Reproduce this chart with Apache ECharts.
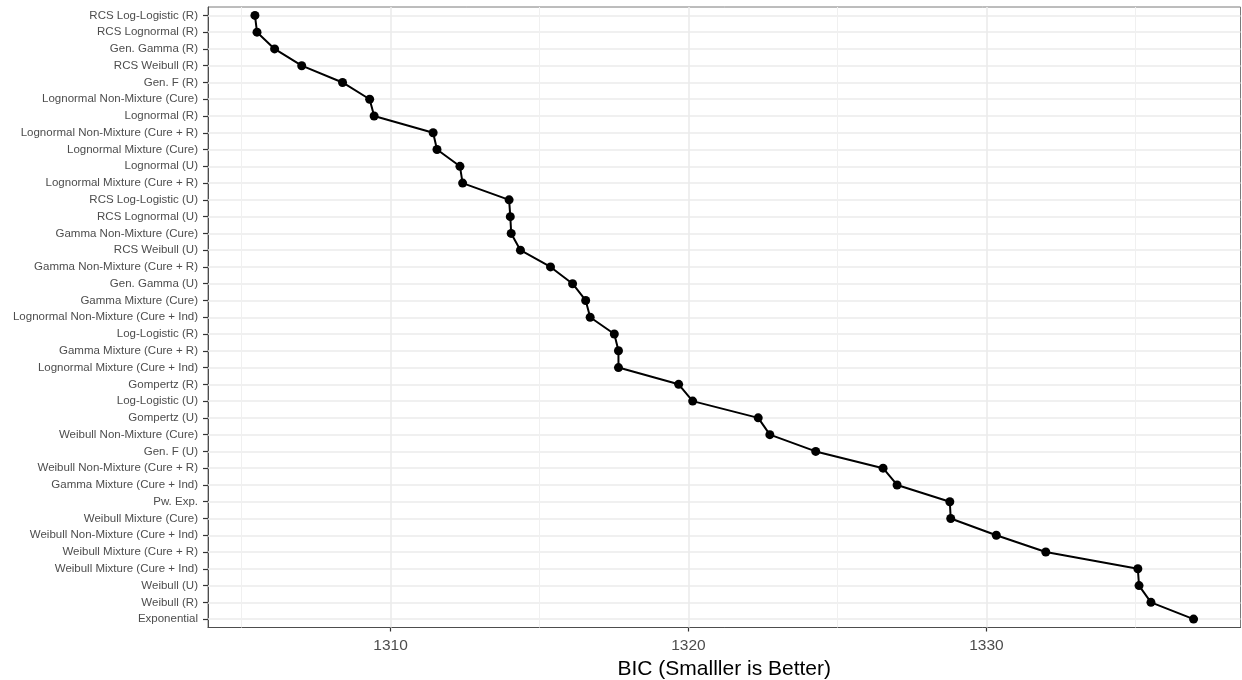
<!DOCTYPE html>
<html>
<head>
<meta charset="utf-8">
<script src="https://cdn.jsdelivr.net/npm/echarts@6/dist/echarts.min.js"></script>
<style>
html,body{margin:0;padding:0;background:#fff;}
#chart{width:1242px;height:680px;}
</style>
</head>
<body>
<div id="chart"></div>
<script>
const categories = [
  "RCS Log-Logistic (R)", "RCS Lognormal (R)", "Gen. Gamma (R)", "RCS Weibull (R)", "Gen. F (R)",
  "Lognormal Non-Mixture (Cure)", "Lognormal (R)", "Lognormal Non-Mixture (Cure + R)", "Lognormal Mixture (Cure)",
  "Lognormal (U)", "Lognormal Mixture (Cure + R)", "RCS Log-Logistic (U)", "RCS Lognormal (U)",
  "Gamma Non-Mixture (Cure)", "RCS Weibull (U)", "Gamma Non-Mixture (Cure + R)", "Gen. Gamma (U)",
  "Gamma Mixture (Cure)", "Lognormal Non-Mixture (Cure + Ind)", "Log-Logistic (R)", "Gamma Mixture (Cure + R)",
  "Lognormal Mixture (Cure + Ind)", "Gompertz (R)", "Log-Logistic (U)", "Gompertz (U)",
  "Weibull Non-Mixture (Cure)", "Gen. F (U)", "Weibull Non-Mixture (Cure + R)", "Gamma Mixture (Cure + Ind)",
  "Pw. Exp.", "Weibull Mixture (Cure)", "Weibull Non-Mixture (Cure + Ind)", "Weibull Mixture (Cure + R)",
  "Weibull Mixture (Cure + Ind)", "Weibull (U)", "Weibull (R)", "Exponential"
];
const bic = [
  1305.45, 1305.52, 1306.11, 1307.02, 1308.39,
  1309.30, 1309.45, 1311.43, 1311.56,
  1312.33, 1312.42, 1313.98, 1314.02,
  1314.05, 1314.36, 1315.37, 1316.11,
  1316.55, 1316.70, 1317.51, 1317.65,
  1317.65, 1319.67, 1320.14, 1322.34,
  1322.73, 1324.27, 1326.53, 1327.00,
  1328.77, 1328.80, 1330.33, 1331.99,
  1335.08, 1335.12, 1335.52, 1336.95
];
const xTicks = [1310, 1320, 1330];
const xMinorGrid = [1305, 1315, 1325, 1335];
const xTitle = "BIC (Smalller is Better)";

const dmin = Math.min(...bic), dmax = Math.max(...bic);
const pad = (dmax - dmin) * 0.05;

const gridLines = []
  .concat(categories.map(c => ({ yAxis: c, lineStyle: { color: '#ebebeb', width: 1.6, type: 'solid' } })))
  .concat(xMinorGrid.map(v => ({ xAxis: v, lineStyle: { color: '#f0f0f0', width: 1, type: 'solid' } })))
  .concat(xTicks.map(v => ({ xAxis: v, lineStyle: { color: '#ebebeb', width: 1.6, type: 'solid' } })));

const chart = echarts.init(document.getElementById('chart'), null, { renderer: 'canvas' });
chart.setOption({
  animation: false,
  backgroundColor: '#ffffff',
  grid: {
    left: 208, right: 1.5, top: 7, bottom: 52.5,
    outerBoundsMode: 'none',
    show: true, borderColor: '#7a7a7a', borderWidth: 1, backgroundColor: 'transparent',
    containLabel: false
  },
  xAxis: {
    type: 'value',
    min: dmin - pad,
    max: dmax + pad,
    name: xTitle,
    nameLocation: 'middle',
    nameGap: 28.5,
    nameTextStyle: { fontFamily: 'Liberation Sans, Arial, sans-serif', fontSize: 21, color: '#000' },
    axisLine: { show: true, onZero: false, lineStyle: { color: '#4d4d4d', width: 1 } },
    axisTick: { show: true, customValues: xTicks, length: 4, lineStyle: { color: '#333', width: 1.2 } },
    axisLabel: { customValues: xTicks, formatter: v => String(v), fontFamily: 'Liberation Sans, Arial, sans-serif', fontSize: 15.5, color: '#4d4d4d', margin: 10 },
    splitLine: { show: false },
    minorSplitLine: { show: false }
  },
  yAxis: {
    type: 'category',
    inverse: true,
    data: categories,
    boundaryGap: true,
    axisLine: { show: true, lineStyle: { color: '#4d4d4d', width: 1 } },
    axisTick: { show: true, alignWithLabel: true, length: 5, lineStyle: { color: '#333', width: 1.2 } },
    axisLabel: { interval: 0, fontFamily: 'Liberation Sans, Arial, sans-serif', fontSize: 11.5, color: '#4d4d4d', margin: 10 },
    splitLine: { show: false }
  },
  series: [
    {
      type: 'line',
      z: 1,
      data: bic.map((v, i) => [v, categories[i]]),
      showSymbol: false,
      lineStyle: { opacity: 0 },
      silent: true,
      markLine: {
        silent: true,
        symbol: 'none',
        animation: false,
        label: { show: false },
        data: gridLines
      }
    },
    {
      type: 'line',
      z: 5,
      data: bic.map((v, i) => [v, categories[i]]),
      symbol: 'circle',
      symbolSize: 9,
      showSymbol: true,
      itemStyle: { color: '#000' },
      lineStyle: { color: '#000', width: 2 }
    }
  ]
});
</script>
</body>
</html>
